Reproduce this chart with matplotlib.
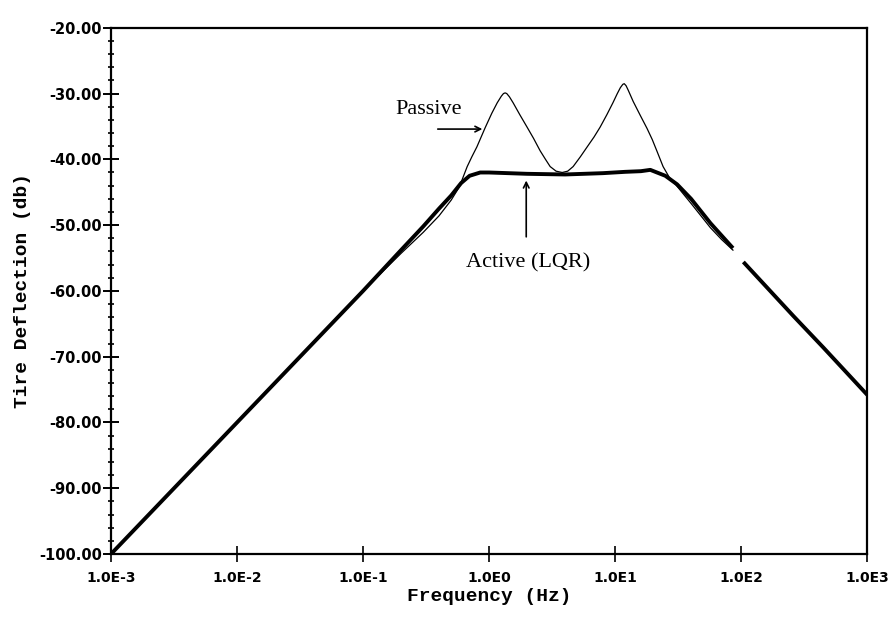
import numpy as np
import matplotlib
matplotlib.use("Agg")
import matplotlib.pyplot as plt
from matplotlib.ticker import FixedLocator, NullLocator

# values (Hz, dB)
active_f = [1e-3, 1e-2, 1e-1, 0.2, 0.3, 0.4, 0.5, 0.6, 0.7, 0.85, 1.0, 2.0, 4.0,
            8.0, 12.0, 16.0, 19.0, 25.0, 31.0, 40.0, 57.0, 70.0, 86.0, 95.0,
            104.0, 259.0, 448.0, 1000.0]
active_db = [-100.0, -80.0, -60.0, -53.8, -50.2, -47.5, -45.5, -43.6, -42.5, -42.0,
             -42.0, -42.2, -42.3, -42.1, -41.9, -41.8, -41.6, -42.5, -43.8, -46.0,
             -49.7, -51.6, -53.5, np.nan, -55.6, -63.8, -68.6, -75.8]

passive_f = [1e-3, 1e-2, 1e-1, 0.2, 0.3, 0.4, 0.5, 0.58, 0.67, 0.73, 0.8, 0.93,
             1.05, 1.16, 1.25, 1.3, 1.34, 1.38, 1.45, 1.55, 1.75, 2.0, 2.25, 2.54,
             2.8, 3.05, 3.4, 3.8, 4.2, 4.64, 5.3, 6.0, 6.8, 7.6, 8.6, 9.6, 10.4,
             11.0, 11.5, 11.8, 12.2, 12.7, 13.9, 15.8, 17.9, 19.7, 21.5, 24.0,
             27.0, 31.0, 40.0, 57.0, 70.0, 86.0]
passive_db = [-100.0, -80.0, -60.0, -54.3, -51.1, -48.6, -46.2, -44.2, -41.1, -39.6,
              -38.1, -35.2, -33.0, -31.4, -30.4, -30.0, -29.9, -30.0, -30.5, -31.4,
              -33.2, -35.1, -36.8, -38.7, -40.0, -41.1, -41.8, -42.0, -41.8, -41.1,
              -39.6, -38.1, -36.6, -35.1, -33.2, -31.4, -30.0, -29.1, -28.6, -28.5,
              -28.8, -29.5, -31.2, -33.3, -35.3, -37.0, -38.8, -41.1, -42.8, -44.1,
              -46.7, -50.4, -52.2, -53.8]

xticks = [1e-3, 1e-2, 1e-1, 1e0, 1e1, 1e2, 1e3]
xticklabels = ["1.0E-3", "1.0E-2", "1.0E-1", "1.0E0", "1.0E1", "1.0E2", "1.0E3"]
yticks = [-100, -90, -80, -70, -60, -50, -40, -30, -20]
yticklabels = ["%.2f" % v for v in yticks]

fig = plt.figure(figsize=(8.95, 6.17), dpi=100)
ax = fig.add_axes([0.124, 0.102, 0.845, 0.853])

ax.plot(passive_f, passive_db, color="black", lw=0.9)
ax.plot(active_f, active_db, color="black", lw=2.8, solid_capstyle="butt")

ax.set_xscale("log")
ax.set_xlim(1e-3, 1e3)
ax.set_ylim(-100, -20)

ax.xaxis.set_major_locator(FixedLocator(xticks))
ax.xaxis.set_minor_locator(NullLocator())
ax.set_xticklabels(xticklabels)
ax.set_yticks(yticks)
ax.set_yticklabels(yticklabels)
ax.yaxis.set_minor_locator(FixedLocator(np.arange(-100, -19, 2)))

for lab in ax.get_xticklabels():
    lab.set_fontsize(10)
    lab.set_fontweight("bold")
for lab in ax.get_yticklabels():
    lab.set_fontsize(10.5)
    lab.set_fontweight("bold")

ax.tick_params(axis="x", which="major", direction="inout", length=12, width=1.2, pad=6)
ax.tick_params(axis="y", which="major", direction="inout", length=11, width=1.4, pad=1)
ax.tick_params(axis="y", which="minor", direction="inout", length=5, width=1.2)
ax.tick_params(top=False, right=False)

for s in ax.spines.values():
    s.set_linewidth(1.6)

ax.set_xlabel("Frequency (Hz)", family="Liberation Mono", fontweight="bold",
              fontsize=14, labelpad=2)
ax.set_ylabel("Tire Deflection (db)", family="Liberation Mono", fontweight="bold",
              fontsize=14, labelpad=6)

ax.annotate("", xy=(0.93, -35.4), xytext=(0.372, -35.4),
            arrowprops=dict(arrowstyle="->", color="black", lw=1.2))
ax.text(0.334, -32.5, "Passive", family="Liberation Serif", fontsize=16,
        ha="center", va="center")
ax.annotate("", xy=(1.97, -42.8), xytext=(1.97, -52.2),
            arrowprops=dict(arrowstyle="->", color="black", lw=1.2))
ax.text(2.04, -55.7, "Active (LQR)", family="Liberation Serif", fontsize=16,
        ha="center", va="center")

fig.savefig("out.png", dpi=100)
